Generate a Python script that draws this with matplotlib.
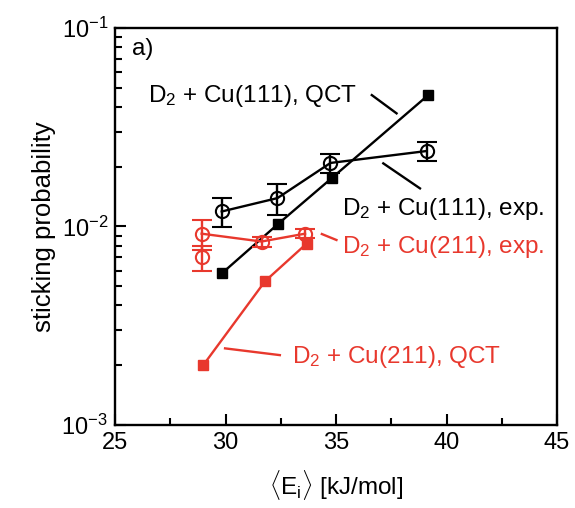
import numpy as np
import matplotlib
matplotlib.use("Agg")
import matplotlib.pyplot as plt

plt.rcParams['font.family'] = ['Liberation Sans', 'DejaVu Sans']
plt.rcParams['mathtext.fontset'] = 'custom'
plt.rcParams['mathtext.rm'] = 'Liberation Sans'
plt.rcParams['mathtext.it'] = 'Liberation Sans:italic'
plt.rcParams['font.size'] = 17

# Daten
e_qct_111 = [29.83, 32.38, 34.80, 39.17]
s_qct_111 = [0.0058, 0.0103, 0.0175, 0.0459]

e_exp_111 = [29.83, 32.35, 34.75, 39.10]
s_exp_111 = [0.0119, 0.0139, 0.0209, 0.0240]
err_exp_111 = [0.0020, 0.0025, 0.0022, 0.0025]

e_qct_211 = [28.99, 31.79, 33.67]
s_qct_211 = [0.0020, 0.0053, 0.0082]

e_exp_211 = [28.92, 31.63, 33.60]
s_exp_211 = [0.0092, 0.0084, 0.0092]
err_exp_211 = [0.0016, 0.0005, 0.0005]

e_exp_211_extra = [28.92]
s_exp_211_extra = [0.0070]
err_exp_211_extra = [0.0010]

black = 'black'
red = '#e8382d'

fig = plt.figure(figsize=(5.75, 5.08), dpi=100)
ax = fig.add_axes([0.2, 0.1634, 0.7687, 0.7815])

ax.plot(e_qct_111, s_qct_111, '-s', color=black, lw=1.7, ms=7.5)
ax.errorbar(e_exp_111, s_exp_111, yerr=err_exp_111, fmt='-o', color=black, lw=1.7,
            ms=9.5, mfc='none', mew=1.5, capsize=7, capthick=1.7, elinewidth=1.7)

ax.plot(e_qct_211, s_qct_211, '-s', color=red, lw=1.7, ms=7.5)
ax.errorbar(e_exp_211, s_exp_211, yerr=err_exp_211, fmt='-o', color=red, lw=1.7,
            ms=9.5, mfc='none', mew=1.5, capsize=7, capthick=1.7, elinewidth=1.7)
ax.errorbar(e_exp_211_extra, s_exp_211_extra, yerr=err_exp_211_extra, fmt='o', color=red,
            ms=9.5, mfc='none', mew=1.5, capsize=7, capthick=1.7, elinewidth=1.7)

ax.set_yscale('log')
ax.set_xlim(25, 45)
ax.set_ylim(1e-3, 1e-1)
ax.set_xticks([25, 30, 35, 40, 45])
ax.set_xticks([27.5, 32.5, 37.5, 42.5], minor=True)
ax.tick_params(which='both', direction='in', top=False, right=False, width=1.5)
ax.tick_params(which='major', length=8, pad=5)
ax.tick_params(which='minor', length=5)
for sp in ax.spines.values():
    sp.set_linewidth(1.7)

ax.set_xlabel(r'$\langle$E$_\mathregular{i}$$\rangle$ [kJ/mol]', labelpad=10, fontsize=17.5)
ax.set_ylabel('sticking probability', labelpad=4, fontsize=18.5)

# Beschriftungen
fs = 17.5
ax.text(0.038, 0.932, 'a)', transform=ax.transAxes, va='baseline', fontsize=fs)
ax.text(0.075, 0.814, r'D$_\mathregular{2}$ + Cu(111), QCT', transform=ax.transAxes, va='baseline', fontsize=fs)
ax.text(0.513, 0.529, r'D$_\mathregular{2}$ + Cu(111), exp.', transform=ax.transAxes, va='baseline', fontsize=fs)
ax.text(0.513, 0.434, r'D$_\mathregular{2}$ + Cu(211), exp.', transform=ax.transAxes, va='baseline', color=red, fontsize=fs)
ax.text(0.400, 0.155, r'D$_\mathregular{2}$ + Cu(211), QCT', transform=ax.transAxes, va='baseline', color=red, fontsize=fs)

ax.plot([0.581, 0.637], [0.831, 0.785], transform=ax.transAxes, color=black, lw=1.7)
ax.plot([0.607, 0.690], [0.659, 0.596], transform=ax.transAxes, color=black, lw=1.7)
ax.plot([0.468, 0.501], [0.481, 0.466], transform=ax.transAxes, color=red, lw=1.7)
ax.plot([0.249, 0.373], [0.193, 0.176], transform=ax.transAxes, color=red, lw=1.7)

plt.savefig('out.png', dpi=100)
plt.close()
